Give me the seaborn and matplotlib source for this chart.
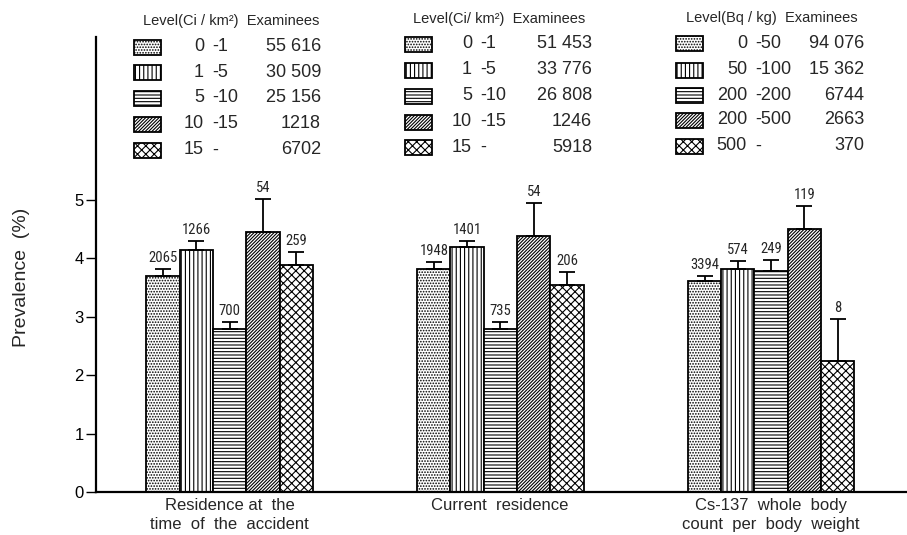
import matplotlib
matplotlib.use("Agg")
import matplotlib.pyplot as plt
from matplotlib import font_manager
from matplotlib.patches import Rectangle
import numpy as np
import pandas as pd
import seaborn as sns

# ---- data -------------------------------------------------------------
groups = ["Residence at  the\ntime  of  the  accident",
          "Current  residence",
          "Cs-137  whole  body\ncount  per  body  weight"]
levels = ["L1", "L2", "L3", "L4", "L5"]

prev_accident = [3.69, 4.14, 2.79, 4.45, 3.89]
prev_current = [3.82, 4.20, 2.79, 4.38, 3.54]
prev_bodycount = [3.61, 3.81, 3.78, 4.50, 2.25]

err_accident = [0.13, 0.15, 0.12, 0.56, 0.22]
err_current = [0.12, 0.09, 0.12, 0.56, 0.22]
err_bodycount = [0.09, 0.15, 0.19, 0.40, 0.71]

cases_accident = ["2065", "1266", "700", "54", "259"]
cases_current = ["1948", "1401", "735", "54", "206"]
cases_bodycount = ["3394", "574", "249", "119", "8"]

legend_headers = ["Level(Ci / km²)  Examinees",
                  "Level(Ci/ km²)  Examinees",
                  "Level(Bq / kg)  Examinees"]
range_low_accident = ["0", "1", "5", "10", "15"]
range_high_accident = ["-1", "-5", "-10", "-15", "-"]
examinees_accident = ["55 616", "30 509", "25 156", "1218", "6702"]
range_low_current = ["0", "1", "5", "10", "15"]
range_high_current = ["-1", "-5", "-10", "-15", "-"]
examinees_current = ["51 453", "33 776", "26 808", "1246", "5918"]
range_low_bodycount = ["0", "50", "200", "200", "500"]
range_high_bodycount = ["-50", "-100", "-200", "-500", "-"]
examinees_bodycount = ["94 076", "15 362", "6744", "2663", "370"]

y_ticks = [0, 1, 2, 3, 4, 5]
hatches = ["......", "||||", "-----", "/" * 10, "x" * 4]

# ---- style ------------------------------------------------------------
sns.set_style("ticks")


def pick_font(*names):
    for n in names:
        try:
            font_manager.findfont(n, fallback_to_default=False)
            return n
        except Exception:
            continue
    return "DejaVu Sans"


sans = pick_font("Liberation Sans", "Arial", "DejaVu Sans")
narrow = pick_font("Liberation Sans Narrow", "Roboto Condensed", sans)
plt.rcParams["font.family"] = [sans, "DejaVu Sans"]
plt.rcParams["hatch.linewidth"] = 0.8
plt.rcParams["hatch.color"] = "black"

W, H = 907, 535
fig = plt.figure(figsize=(W / 100, H / 100), dpi=100)


def fx(px):
    return px / W


def fy(py):
    return 1 - py / H


ax = fig.add_axes([fx(96), fy(492), 1 - fx(96), fy(37) - fy(492)])

df = pd.DataFrame({
    "group": np.repeat(groups, len(levels)),
    "level": levels * len(groups),
    "prev": prev_accident + prev_current + prev_bodycount,
})
errs = [err_accident, err_current, err_bodycount]
cases = [cases_accident, cases_current, cases_bodycount]

sns.barplot(data=df, x="group", y="prev", hue="level", order=groups,
            hue_order=levels, palette=["white"] * len(levels),
            width=0.615, gap=0, edgecolor="black", linewidth=1.3,
            errorbar=None, legend=False, dodge=True, saturation=1, ax=ax)

bars = sorted(ax.patches, key=lambda p: p.get_x())
for i, bar in enumerate(bars):
    g, lv = divmod(i, len(levels))
    bar.set_hatch(hatches[lv])
    bar.set_facecolor("white")
    bar.set_edgecolor("black")
    xc = bar.get_x() + bar.get_width() / 2
    top = bar.get_height()
    e = errs[g][lv]
    ax.errorbar(xc, top, yerr=[[0], [e]], fmt="none", ecolor="black",
                elinewidth=1.3, capsize=6, capthick=1.3, zorder=3)
    ax.annotate(cases[g][lv], (xc, top + e), xytext=(0, 3),
                textcoords="offset points", ha="center", va="bottom",
                fontsize=10.5, family=[narrow, "DejaVu Sans"])

ax.set_xlim(-0.494, 2.502)
ax.set_ylim(0, 7.79)
ax.set_yticks(y_ticks)
ax.set_yticklabels([str(t) for t in y_ticks], fontsize=12)
ax.tick_params(axis="y", direction="out", length=7, width=1, pad=2,
               colors="black")
ax.tick_params(axis="x", length=0, pad=6)
ax.set_xticks([0, 1, 2])
ax.set_xticklabels([])
ax.set_xlabel("")
ax.set_ylabel("")
for s in ("top", "right"):
    ax.spines[s].set_visible(False)
for s in ("left", "bottom"):
    ax.spines[s].set_linewidth(1.6)
    ax.spines[s].set_color("black")

# category captions below the axis
for xc, label in zip([229.5, 500, 771], groups):
    fig.text(fx(xc), fy(498), label, ha="center", va="top", fontsize=12,
             linespacing=1.3)

fig.text(fx(22), fy(277), "Prevalence  (%)", rotation=90, ha="center",
         va="center", fontsize=14)

# level / examinees tables above each group
tables = [
    (range_low_accident, range_high_accident, examinees_accident),
    (range_low_current, range_high_current, examinees_current),
    (range_low_bodycount, range_high_bodycount, examinees_bodycount),
]
swatch_x = [134, 405, 676]
header_x = [143, 413, 686]
header_y = [21, 19, 18]
low_right = [204, 472, 747]
high_left = [212, 480, 755]
count_right = [321, 592, 864]
row_y = [[47, 72, 98, 124, 150], [44, 70, 96, 122, 147],
         [43, 70, 95, 120, 146]]

for t, (lows, highs, counts) in enumerate(tables):
    fig.text(fx(header_x[t]), fy(header_y[t]), legend_headers[t],
             ha="left", va="center", fontsize=10.5)
    for r in range(len(levels)):
        yc = row_y[t][r]
        fig.patches.append(Rectangle((fx(swatch_x[t]), fy(yc + 7.5)),
                                     fx(27), 15 / H, transform=fig.transFigure,
                                     facecolor="white", edgecolor="black",
                                     linewidth=1.3, hatch=hatches[r]))
        fig.text(fx(low_right[t]), fy(yc), lows[r], ha="right",
                 va="center", fontsize=13)
        fig.text(fx(high_left[t]), fy(yc), highs[r], ha="left",
                 va="center", fontsize=13)
        fig.text(fx(count_right[t]), fy(yc), counts[r], ha="right",
                 va="center", fontsize=13)

fig.savefig("out.png", dpi=100)
